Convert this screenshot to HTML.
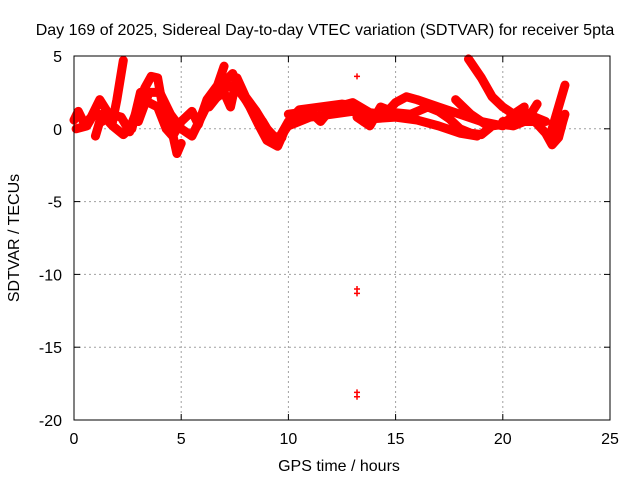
<!DOCTYPE html>
<html><head><meta charset="utf-8"><style>
body{margin:0;background:#fff}
svg text{font-family:"Liberation Sans",sans-serif;font-size:16px;fill:#000}
</style></head><body>
<svg id="chart" width="640" height="480">
<text x="325" y="35" text-anchor="middle">Day 169 of 2025, Sidereal Day-to-day VTEC variation (SDTVAR) for receiver 5pta</text>
<g id="grid"></g>
<g id="ticks"></g>
<g id="marks"></g>
<rect x="74" y="56" width="536" height="364" fill="none" stroke="#000" stroke-width="1"/>
<text x="339" y="471" text-anchor="middle">GPS time / hours</text>
<text transform="translate(19,238) rotate(-90)" text-anchor="middle">SDTVAR / TECUs</text>
</svg>
<script>
const xTicks=[0,5,10,15,20,25];
const yTicks=[5,0,-5,-10,-15,-20];
const trackA=[[0,0.6],[0.2,1.2],[0.5,0.3],[0.8,0.8],[1.2,2.0],[1.5,1.3],[1.8,0.5],[2.0,2.0],[2.3,4.7]];
const trackB=[[1.0,-0.5],[1.3,1.0],[1.8,0.2],[2.3,-0.4],[2.6,0],[3.0,1.5],[3.3,2.8],[3.6,3.6],[3.9,3.5],[4.2,1.0],[4.5,0.3],[4.8,-1.7],[5.0,-1]];
const trackC=[[2.7,0],[3.1,2.5],[3.5,1.8],[3.9,1.5],[4.3,0],[4.6,-0.5],[5.0,0.5],[5.5,1.2],[5.8,0.3],[6.2,2.0],[6.7,3.0],[7.0,4.3]];
const trackD=[[5.0,0],[5.5,-0.5],[6.0,1.0],[6.5,2.5],[7.0,3.2],[7.4,3.8],[7.8,2.5],[8.2,1.5],[8.6,0.3],[9.0,-0.8],[9.5,-1.2],[9.8,-0.2],[10.2,0.7]];
const trackE=[[6.5,2],[7.0,2.5],[7.3,1.5],[7.6,3.5],[8.0,2.2],[8.5,1.2],[9,0],[9.5,-0.8],[10,0.5],[10.5,1.3],[11.5,1.5],[12.5,1.7],[13,1.6],[13.5,0.5],[14,1.0]];
const trackF=[[10,1],[11,1.2],[11.5,0.5],[12,1.4],[13,1.8],[13.8,1.1],[14.5,1.0],[15,1.8],[15.5,2.2],[16,2.0],[17,1.5],[18,1.0],[19,0.5],[20,0.2],[20.5,1.0],[21,1.5]];
const trackG=[[13.2,0.8],[13.8,0.2],[14.3,1.5],[15,1.1],[15.7,1.0],[16.5,1.5],[17,1.2],[17.5,0.7],[18,0],[18.5,-0.3],[19,-0.4],[19.5,0.2],[20,0.3],[20.5,0.2],[21,0.5],[21.5,0.5],[22,-0.3],[22.3,-1.1],[22.6,-0.6],[22.8,0.5],[22.9,1.0]];
const trackH=[[18.4,4.8],[19,3.5],[19.5,2.2],[20,1.5],[20.5,1.0],[21,1.2],[21.5,0.8],[22,0.5]];
const trackI=[[17.8,2.0],[18.5,1.0],[19.2,0.3]];
const trackJ=[[20,0.5],[20.8,0.6],[21.3,1.0],[21.6,1.7]];
const trackK=[[22.2,-0.5],[22.6,1.5],[22.9,3.0]];
const trackL=[[10,0.2],[11,0.8],[12,1.0],[13,1.2],[14,0.7],[15,0.8],[16,0.6],[17,0.2],[18,-0.3],[18.8,-0.5]];
const trackM=[[3,0.5],[3.5,2.5],[4,2.5],[4.5,1.0],[5,0]];
const trackN=[[6.3,1.5],[7,2.8],[7.5,3.0],[8,2],[8.8,0.5],[9.2,-0.5],[9.7,-0.6]];
const trackO=[[0.1,0],[0.6,0.2],[1,1.2],[1.3,0.5],[1.7,1.0],[2.2,0.8],[2.6,-0.2]];
const outlierT=[13.2,13.2,13.2,13.2,13.2,0];
const outlierV=[3.6,-11,-11.3,-18.1,-18.4,0.8];
const tracks=[trackA,trackB,trackC,trackD,trackE,trackF,trackG,trackH,trackI,trackJ,trackK,trackL,trackM,trackN,trackO];
const NS='http://www.w3.org/2000/svg';
const X=h=>74+h*(536/25);
const Y=v=>56+(5-v)*(364/25);
const grid=document.getElementById('grid'),ticks=document.getElementById('ticks'),marks=document.getElementById('marks');
function mk(tag,attrs,parent){const e=document.createElementNS(NS,tag);for(const k in attrs)e.setAttribute(k,attrs[k]);parent.appendChild(e);return e;}
xTicks.forEach(t=>{
  if(t>0&&t<25){const g=mk('line',{x1:X(t),x2:X(t),y1:56,y2:420,stroke:'#a0a0a0','stroke-dasharray':'2,3'},grid);
  
  }
  mk('line',{x1:X(t),x2:X(t),y1:420,y2:414,stroke:'#000'},ticks);
  mk('line',{x1:X(t),x2:X(t),y1:56,y2:62,stroke:'#000'},ticks);
  const l=mk('text',{x:X(t),y:444,'text-anchor':'middle'},ticks);l.textContent=t;
  
  
});
yTicks.forEach(t=>{
  if(t<5&&t>-20){const g=mk('line',{x1:74,x2:610,y1:Y(t),y2:Y(t),stroke:'#a0a0a0','stroke-dasharray':'2,3'},grid);
  
  }
  mk('line',{x1:74,x2:80,y1:Y(t),y2:Y(t),stroke:'#000'},ticks);
  mk('line',{x1:604,x2:610,y1:Y(t),y2:Y(t),stroke:'#000'},ticks);
  const l=mk('text',{x:62,y:Y(t)+6,'text-anchor':'end'},ticks);l.textContent=t;
  
  
});
tracks.forEach(tr=>{
  const p=mk('polyline',{points:tr.map(d=>X(d[0])+','+Y(d[1])).join(' '),fill:'none',stroke:'#ff0000','stroke-width':9,'stroke-linejoin':'round','stroke-linecap':'round'},marks);
  
  
});
outlierT.forEach((t,i)=>{
  const x=X(t),y=Y(outlierV[i]);
  const p=mk('path',{d:`M${x-3},${y}H${x+3}M${x},${y-3}V${y+3}`,stroke:'#ff0000','stroke-width':1.5},marks);
  
  
});
</script>
</body></html>
